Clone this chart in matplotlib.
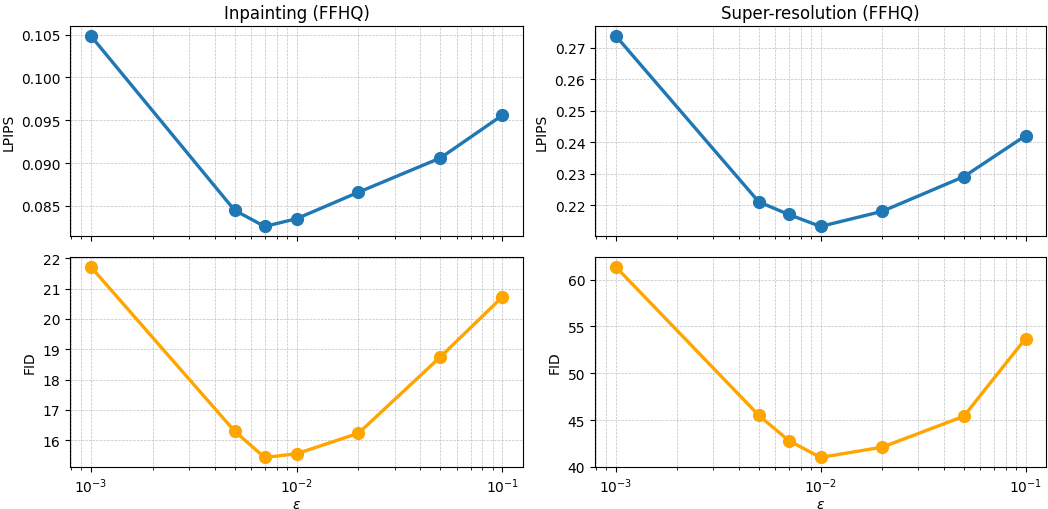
import matplotlib
matplotlib.use('Agg')
import matplotlib.pyplot as plt

eps = [0.001, 0.005, 0.007, 0.01, 0.02, 0.05, 0.1]

inp_lpips = [0.1049, 0.0845, 0.0826, 0.0835, 0.0866, 0.0906, 0.0956]
inp_fid = [21.73, 16.30, 15.43, 15.55, 16.23, 18.75, 20.73]

sr_lpips = [0.2738, 0.221, 0.217, 0.2132, 0.218, 0.229, 0.242]
sr_fid = [61.4, 45.5, 42.8, 41.0, 42.1, 45.4, 53.7]

titles = ['Inpainting (FFHQ)', 'Super-resolution (FFHQ)']

fig, axes = plt.subplots(2, 2, figsize=(10.48, 5.1), dpi=100, sharex='col')

# positions in pixels
W, H = 1048, 510
boxes = {
    (0, 0): (70, 27, 523, 237),
    (1, 0): (70, 258, 523, 468),
    (0, 1): (595, 27, 1046, 237),
    (1, 1): (595, 258, 1046, 468),
}
for (r, c), (x0, y0, x1, y1) in boxes.items():
    axes[r, c].set_position([x0 / W, 1 - y1 / H, (x1 - x0) / W, (y1 - y0) / H])

series = [(inp_lpips, inp_fid), (sr_lpips, sr_fid)]
for c in range(2):
    top, bot = axes[0, c], axes[1, c]
    top.plot(eps, series[c][0], '-o', color='tab:blue', lw=2.4, ms=8.5)
    bot.plot(eps, series[c][1], '-o', color='orange', lw=2.4, ms=8.5)
    top.set_xscale('log')
    top.set_ylabel('LPIPS')
    bot.set_ylabel('FID')
    bot.set_xlabel(r'$\epsilon$', labelpad=1)
    top.set_title(titles[c], fontsize=12)
    for ax in (top, bot):
        ax.grid(True, which='both', linestyle='--', linewidth=0.5, alpha=0.8)

plt.savefig('out.png', dpi=100)
